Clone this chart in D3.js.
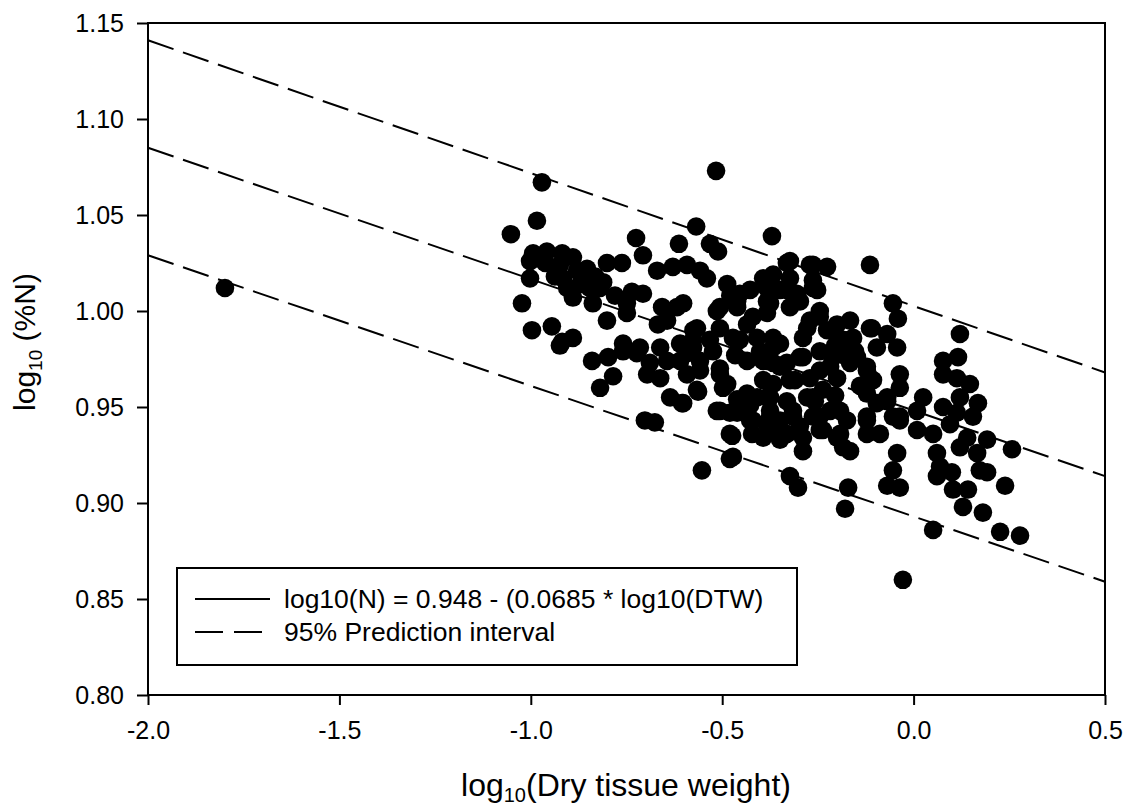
<!DOCTYPE html>
<html>
<head>
<meta charset="utf-8">
<script src="https://cdn.jsdelivr.net/npm/d3@7"></script>
<style>
  body { margin: 0; background: #fff; }
  svg { display: block; font-family: "Liberation Sans", Arial, sans-serif; }
</style>
</head>
<body>
<div id="chart"></div>
<script>

// points: log10 dry tissue weight / log10 %N
let dtwLog = [
  -1.799, -0.971, -0.516, -0.984, -1.052, -0.568, -0.370, -0.725, -0.707, -0.613,
  -0.532, -0.511, -0.994, -0.958, -0.918, -0.890, -1.002, -1.002, -0.924, -0.916,
  -0.879, -0.853, -0.801, -0.762, -0.871, -0.905, -0.890, -0.811, -0.819, -0.838,
  -0.801, -1.023, -0.997, -0.945, -0.918, -0.890, -0.736, -0.707, -0.749, -0.749,
  -0.670, -0.629, -0.592, -0.558, -0.540, -0.657, -0.618, -0.644, -0.668, -0.566,
  -0.487, -0.454, -0.514, -0.461, -0.506, -0.393, -0.375, -0.759, -0.715, -0.662,
  -0.610, -0.576, -0.367, -0.420, -0.383, -0.840, -0.785, -0.819, -0.798, -0.759,
  -0.723, -0.689, -0.696, -0.662, -0.644, -0.610, -0.592, -0.576, -0.524, -0.558,
  -0.506, -0.487, -0.636, -0.605, -0.563, -0.514, -0.480, -0.461, -0.435, -0.420,
  -0.375, -0.422, -0.393, -0.367, -0.474, -0.480, -0.553, -0.702, -0.676, -0.393,
  -0.367, -0.367, -0.331, -0.271, -0.226, -0.114, -0.367, -0.323, -0.263, -0.349,
  -0.305, -0.252, -0.375, -0.323, -0.245, -0.200, -0.054, -0.041, -0.109, -0.158,
  -0.069, -0.043, -0.096, 0.121, 0.116, 0.077, 0.077, 0.113, 0.147, 0.168,
  0.121, 0.025, 0.009, 0.077, 0.113, 0.155, -0.036, -0.036, -0.036, -0.114,
  -0.148, -0.184, -0.226, -0.289, -0.349, -0.383, -0.331, -0.289, -0.245, -0.211,
  -0.166, -0.122, -0.200, -0.271, -0.323, -0.383, -0.331, -0.263, -0.192, -0.122,
  -0.096, -0.069, -0.174, -0.245, -0.315, -0.331, -0.289, -0.245, -0.200, -0.166,
  -0.122, 0.009, 0.051, 0.095, 0.140, 0.192, 0.121, 0.166, 0.257, 0.061,
  0.069, 0.061, 0.100, 0.103, 0.142, 0.129, 0.173, 0.192, 0.239, 0.181,
  0.226, 0.278, 0.051, -0.323, -0.302, -0.171, -0.179, -0.054, -0.069, -0.036,
  -0.028, -0.435, -0.383, -0.532, -0.472, -0.409, -0.278, -0.245, -0.592, -0.558,
  -0.435, -0.349, -0.218, -0.106, -0.409, -0.349, -0.315, -0.278, -0.237, -0.088,
  -0.289, -0.349, -0.184, -0.043, -0.054, -0.122, -0.602,
  // dense middle part
  -0.924, -0.383, -0.367, -0.036, -0.323, -0.263, -0.506, -0.461, -0.375, -0.331,
  -0.263, -0.575, -0.211, -0.166, -0.114, -0.506, -0.393, -0.297, -0.174, -0.122,
  -0.566, -0.602, -0.498, -0.506, -0.461, -0.375, -0.427, -0.383, -0.263, -0.237,
  -0.192, -0.122, -0.480, -0.472, -0.069,
  -0.479, -0.427, -0.297, -0.271, -0.205, -0.166, -0.245, -0.310, -0.401, -0.466,
  -0.454, -0.258, -0.218, -0.375, -0.427, -0.297, -0.205, -0.140, -0.153,
  -0.962, -0.937, -0.846, -0.832, -0.780
];

let nLog = [
  1.012, 1.067, 1.073, 1.047, 1.040, 1.044, 1.039, 1.038, 1.029, 1.035,
  1.035, 1.031, 1.030, 1.031, 1.030, 1.028, 1.026, 1.017, 1.024, 1.017,
  1.021, 1.022, 1.025, 1.025, 1.014, 1.012, 1.007, 1.015, 1.012, 1.004,
  0.995, 1.004, 0.990, 0.992, 0.984, 0.986, 1.010, 1.009, 1.004, 0.999,
  1.021, 1.023, 1.024, 1.021, 1.017, 1.002, 1.002, 0.995, 0.993, 0.991,
  1.014, 1.009, 1.000, 1.002, 0.991, 1.017, 1.014, 0.983, 0.981, 0.981,
  0.983, 0.985, 0.986, 0.997, 1.005, 0.974, 0.966, 0.960, 0.976, 0.979,
  0.978, 0.973, 0.967, 0.965, 0.974, 0.974, 0.967, 0.981, 0.979, 0.969,
  0.967, 0.962, 0.955, 0.952, 0.958, 0.948, 0.947, 0.954, 0.957, 0.943,
  0.945, 0.936, 0.934, 0.939, 0.935, 0.923, 0.917, 0.943, 0.942, 0.964,
  0.973, 0.981, 1.025, 1.024, 1.023, 1.024, 1.019, 1.017, 1.016, 1.011,
  1.009, 1.011, 1.004, 1.002, 1.000, 0.993, 1.004, 0.996, 0.991, 0.986,
  0.988, 0.981, 0.981, 0.988, 0.976, 0.974, 0.967, 0.965, 0.962, 0.952,
  0.955, 0.955, 0.948, 0.950, 0.947, 0.945, 0.945, 0.967, 0.960, 0.965,
  0.976, 0.985, 0.990, 0.986, 0.983, 0.974, 0.973, 0.976, 0.979, 0.976,
  0.973, 0.969, 0.965, 0.965, 0.964, 0.955, 0.953, 0.955, 0.948, 0.945,
  0.952, 0.953, 0.943, 0.945, 0.945, 0.936, 0.927, 0.938, 0.934, 0.927,
  0.936, 0.938, 0.936, 0.941, 0.934, 0.933, 0.929, 0.926, 0.928, 0.926,
  0.919, 0.914, 0.916, 0.907, 0.907, 0.898, 0.917, 0.916, 0.909, 0.895,
  0.885, 0.883, 0.886, 0.914, 0.908, 0.908, 0.897, 0.917, 0.909, 0.908,
  0.860, 0.993, 0.999, 0.985, 0.986, 0.986, 0.991, 0.997, 0.978, 0.974,
  0.974, 0.971, 0.971, 0.964, 0.955, 0.943, 0.948, 0.955, 0.959, 0.936,
  0.934, 0.933, 0.929, 0.926, 0.945, 0.957, 1.004,
  // dense middle part
  0.982, 1.012, 0.962, 0.943, 1.026, 1.024, 1.002, 1.005, 1.012, 1.011,
  1.012, 0.990, 0.990, 0.985, 0.991, 0.970, 0.974, 0.976, 0.976, 0.971,
  0.959, 0.952, 0.960, 0.948, 0.947, 0.955, 0.943, 0.941, 0.945, 0.938,
  0.936, 0.943, 0.936, 0.924, 0.955,
  1.008, 1.011, 1.005, 0.995, 0.982, 0.995, 0.969, 0.964, 0.979, 0.977,
  0.985, 0.953, 0.948, 0.948, 0.951, 0.940, 0.956, 0.961, 0.979,
  1.025, 1.018, 1.012, 1.018, 1.008
];

// regression line and 95% prediction band, ends at x = -2.0 and 0.5
let lineEnds = [-2.0, 0.5];
let fitLine = [1.085, 0.914];
let upperPI = [1.141, 0.968];
let lowerPI = [1.029, 0.859];

let xTicks = [-2.0, -1.5, -1.0, -0.5, 0.0, 0.5];
let xTickLabels = ["-2.0", "-1.5", "-1.0", "-0.5", "0.0", "0.5"];
let yTicks = [0.80, 0.85, 0.90, 0.95, 1.00, 1.05, 1.10, 1.15];
let yTickLabels = ["0.80", "0.85", "0.90", "0.95", "1.00", "1.05", "1.10", "1.15"];

let legendLabels = ["log10(N) = 0.948 - (0.0685 * log10(DTW)", "95% Prediction interval"];

drawScatter();

function drawScatter() {

  let width = 1128, height = 809;
  let plot = { left: 148, top: 23, right: 1105, bottom: 695 };

  let svg = d3.select("#chart").append("svg")
    .attr("width", width)
    .attr("height", height);

  let x = d3.scaleLinear().domain([-2.0, 0.5]).range([plot.left, plot.right]);
  let y = d3.scaleLinear().domain([0.80, 1.15]).range([plot.bottom, plot.top]);

  // axes, ticks outside, only left and bottom
  let xAxis = svg.append("g")
    .attr("transform", `translate(0,${plot.bottom})`)
    .call(d3.axisBottom(x).tickValues(xTicks).tickSize(10).tickPadding(16).tickSizeOuter(0)
      .tickFormat((d, i) => xTickLabels[i]));

  let yAxis = svg.append("g")
    .attr("transform", `translate(${plot.left},0)`)
    .call(d3.axisLeft(y).tickValues(yTicks).tickSize(11).tickPadding(13).tickSizeOuter(0)
      .tickFormat((d, i) => yTickLabels[i]));

  for (let g of [xAxis, yAxis]) {
    g.select(".domain").remove();
    g.selectAll(".tick line").attr("stroke", "#000").attr("stroke-width", 2);
    g.selectAll(".tick text")
      .attr("fill", "#000")
      .attr("font-size", 25)
      .attr("font-family", '"Liberation Sans", Arial, sans-serif');
  }

  // frame around plot area
  svg.append("rect")
    .attr("x", plot.left)
    .attr("y", plot.top)
    .attr("width", plot.right - plot.left)
    .attr("height", plot.bottom - plot.top)
    .attr("fill", "none")
    .attr("stroke", "#000")
    .attr("stroke-width", 2);

  // the three lines (all come out dashed in the figure)
  let line = d3.line().x(d => x(d[0])).y(d => y(d[1]));
  for (let ys of [upperPI, fitLine, lowerPI]) {
    svg.append("path")
      .datum(lineEnds.map((v, i) => [v, ys[i]]))
      .attr("d", line)
      .attr("fill", "none")
      .attr("stroke", "#000")
      .attr("stroke-width", 2)
      .attr("stroke-dasharray", "27,10");
  }

  svg.append("g").selectAll("circle")
    .data(dtwLog.map((v, i) => [v, nLog[i]]))
    .join("circle")
    .attr("cx", d => x(d[0]))
    .attr("cy", d => y(d[1]))
    .attr("r", 9.3)
    .attr("fill", "#000");

  // legend box
  let legend = svg.append("g");
  legend.append("rect")
    .attr("x", 177).attr("y", 568)
    .attr("width", 620).attr("height", 97)
    .attr("fill", "#fff")
    .attr("stroke", "#000")
    .attr("stroke-width", 2);

  let rows = [599, 632];
  legend.append("line")
    .attr("x1", 195).attr("x2", 270)
    .attr("y1", rows[0]).attr("y2", rows[0])
    .attr("stroke", "#000").attr("stroke-width", 2);
  legend.append("line")
    .attr("x1", 195).attr("x2", 262)
    .attr("y1", rows[1]).attr("y2", rows[1])
    .attr("stroke", "#000").attr("stroke-width", 2)
    .attr("stroke-dasharray", "28,11");

  legend.selectAll("text")
    .data(legendLabels)
    .join("text")
    .attr("x", 284)
    .attr("y", (d, i) => rows[i])
    .attr("dy", "0.35em")
    .attr("font-size", 26.5)
    .text(d => d);

  // axis titles with subscript 10
  let xTitle = svg.append("text")
    .attr("transform", "translate(626,796)")
    .attr("text-anchor", "middle")
    .attr("font-size", 32);
  xTitle.append("tspan").text("log");
  xTitle.append("tspan").attr("font-size", 20).attr("dy", 6).text("10");
  xTitle.append("tspan").attr("dy", -6).text("(Dry tissue weight)");

  let yTitle = svg.append("text")
    .attr("transform", "translate(35,342) rotate(-90)")
    .attr("text-anchor", "middle")
    .attr("font-size", 30);
  yTitle.append("tspan").text("log");
  yTitle.append("tspan").attr("font-size", 19).attr("dy", 7).text("10");
  yTitle.append("tspan").attr("dy", -7).text(" (%N)");

}

</script>
</body>
</html>
